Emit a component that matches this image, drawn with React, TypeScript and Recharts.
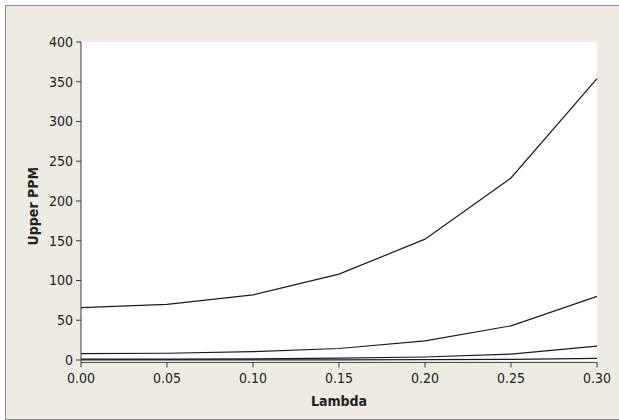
import { LineChart, Line, XAxis, YAxis, CartesianGrid, Label } from 'recharts';

// lambda values on the x axis
const lambdas = [0, 0.05, 0.1, 0.15, 0.2, 0.25, 0.3];

// upper PPM curves
const curveA = [66, 70, 82, 108, 152, 229, 354];
const curveB = [8, 8.5, 10.5, 14.5, 24, 43, 80];
const curveC = [1, 1.2, 1.5, 2.3, 3.8, 7.5, 17.5];
const curveD = [0.1, 0.1, 0.2, 0.3, 0.5, 0.9, 2];

const xTicks = [0, 0.05, 0.1, 0.15, 0.2, 0.25, 0.3];
const yTicks = [0, 50, 100, 150, 200, 250, 300, 350, 400];

const data = lambdas.map((l, i) => ({
  lambda: l,
  a: curveA[i],
  b: curveB[i],
  c: curveC[i],
  d: curveD[i],
}));

const FONT = '"DejaVu Sans Condensed", "Liberation Sans", sans-serif';
const INK = '#222';
const FRAME = '#3a3a3a';
const tickStyle = { fontSize: 14, fill: INK, fontFamily: FONT };

const YTitle = ({ viewBox }: any) => {
  const x = viewBox.x + 33;
  const y = viewBox.y + viewBox.height / 2 + 4;
  return (
    <text x={x} y={y} transform={`rotate(-90, ${x}, ${y})`} textAnchor="middle" dominantBaseline="central"
      style={{ fontSize: 14, fontWeight: 'bold', fill: INK, fontFamily: FONT }}>
      Upper PPM
    </text>
  );
};

const XTitle = ({ viewBox }: any) => {
  const x = viewBox.x + viewBox.width / 2;
  const y = 401;
  return (
    <text x={x} y={y} textAnchor="middle" dominantBaseline="central"
      style={{ fontSize: 14, fontWeight: 'bold', fill: INK, fontFamily: FONT }}>
      Lambda
    </text>
  );
};

const App = () => {
  return (
    <div style={{ position: 'absolute', left: 0, top: 0, width: 619, height: 420, overflow: 'hidden', background: '#fff' }}>
      <div style={{ position: 'absolute', left: 5, top: 5, width: 700, height: 413, background: '#EEEBE2', border: '1px solid #8c8c8c' }} />
      <div style={{ position: 'absolute', left: 0, top: 0 }}>
        <LineChart width={619} height={420} data={data} margin={{ top: 42, right: 22, bottom: 17.6, left: 0 }}>
          <CartesianGrid fill="#fff" horizontal={false} vertical={false} />
          <XAxis
            dataKey="lambda"
            type="number"
            domain={[0, 0.3]}
            ticks={xTicks}
            tickFormatter={(v: number) => v.toFixed(2)}
            height={40}
            tickSize={5}
            tickMargin={6}
            tick={tickStyle}
            stroke={FRAME}
            tickLine={{ stroke: FRAME }}
            axisLine={{ stroke: FRAME }}
          >
            <Label content={<XTitle />} />
          </XAxis>
          <XAxis xAxisId="top" orientation="top" type="number" domain={[0, 0.3]} height={0} tick={false} tickLine={false} axisLine={{ stroke: FRAME }} />
          <YAxis
            type="number"
            domain={[-3, 400]}
            ticks={yTicks}
            width={81}
            tickSize={5}
            tickMargin={3}
            tick={tickStyle}
            tickLine={{ stroke: FRAME }}
            axisLine={{ stroke: FRAME }}
            allowDataOverflow
          >
            <Label content={<YTitle />} />
          </YAxis>
          <YAxis yAxisId="right" orientation="right" type="number" domain={[-3, 400]} width={0} tick={false} tickLine={false} axisLine={{ stroke: FRAME }} />
          <Line type="linear" dataKey="a" stroke="#1a1a1a" strokeWidth={1.2} dot={false} isAnimationActive={false} />
          <Line type="linear" dataKey="b" stroke="#1a1a1a" strokeWidth={1.2} dot={false} isAnimationActive={false} />
          <Line type="linear" dataKey="c" stroke="#1a1a1a" strokeWidth={1.2} dot={false} isAnimationActive={false} />
          <Line type="linear" dataKey="d" stroke="#1a1a1a" strokeWidth={1.2} dot={false} isAnimationActive={false} />
        </LineChart>
      </div>
    </div>
  );
};

export default App;
